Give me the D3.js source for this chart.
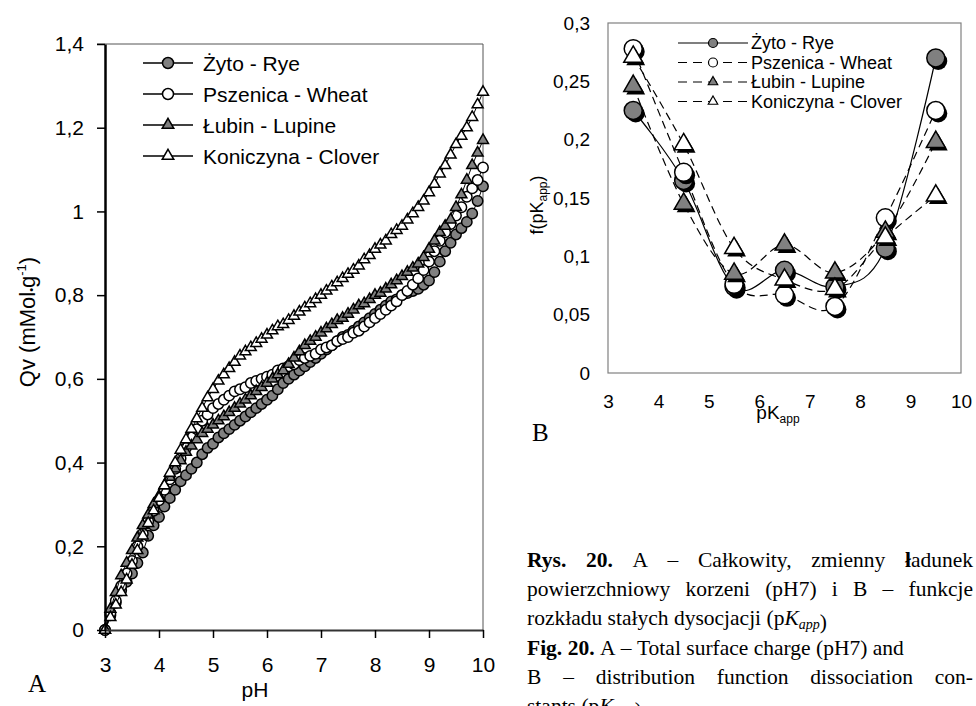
<!DOCTYPE html>
<html>
<head>
<meta charset="utf-8">
<script src="https://cdn.jsdelivr.net/npm/d3@7"></script>
<style>
  body { margin: 0; background: #fff; }
  svg text { font-family: Arial, "Liberation Sans", sans-serif; fill: #000; }
  svg text.serif { font-family: "Times New Roman", "Liberation Serif", serif; }
</style>
</head>
<body>
<div id="chart"></div>
<script>
//-------------------------- dane --------------------------
// A: pH grid and Qv (mMol*g-1)
var phValues = [3.0,3.1,3.2,3.3,3.4,3.5,3.6,3.7,3.8,3.9,
                4.0,4.1,4.2,4.3,4.4,4.5,4.6,4.7,4.8,4.9,
                5.0,5.1,5.2,5.3,5.4,5.5,5.6,5.7,5.8,5.9,
                6.0,6.1,6.2,6.3,6.4,6.5,6.6,6.7,6.8,6.9,
                7.0,7.1,7.2,7.3,7.4,7.5,7.6,7.7,7.8,7.9,
                8.0,8.1,8.2,8.3,8.4,8.5,8.6,8.7,8.8,8.9,
                9.0,9.1,9.2,9.3,9.4,9.5,9.6,9.7,9.8,9.9,10.0];
var ryeQ = [0.00,0.035,0.065,0.095,0.115,0.135,0.16,0.185,0.225,0.25,
            0.27,0.295,0.315,0.335,0.355,0.37,0.385,0.40,0.42,0.435,
            0.445,0.46,0.47,0.48,0.49,0.50,0.51,0.52,0.53,0.54,
            0.55,0.56,0.575,0.59,0.60,0.61,0.62,0.63,0.64,0.65,
            0.66,0.67,0.68,0.69,0.70,0.705,0.715,0.725,0.735,0.745,
            0.755,0.765,0.775,0.785,0.79,0.80,0.805,0.81,0.815,0.825,
            0.835,0.855,0.88,0.905,0.925,0.945,0.96,0.975,0.995,1.025,1.06];
var wheatQ = [0.00,0.04,0.07,0.105,0.135,0.165,0.20,0.23,0.26,0.285,
              0.31,0.335,0.36,0.385,0.41,0.435,0.46,0.48,0.50,0.515,
              0.53,0.54,0.55,0.56,0.57,0.575,0.58,0.59,0.595,0.60,
              0.605,0.61,0.62,0.625,0.63,0.635,0.645,0.65,0.655,0.66,
              0.67,0.675,0.68,0.69,0.695,0.70,0.71,0.715,0.725,0.735,
              0.745,0.755,0.765,0.775,0.785,0.80,0.81,0.825,0.84,0.86,
              0.88,0.905,0.93,0.95,0.97,0.99,1.01,1.035,1.055,1.075,1.105];
var lupineQ = [0.00,0.05,0.09,0.13,0.16,0.19,0.22,0.25,0.275,0.30,
               0.32,0.345,0.365,0.385,0.405,0.425,0.44,0.455,0.47,0.48,
               0.49,0.50,0.51,0.52,0.53,0.54,0.55,0.56,0.57,0.58,
               0.59,0.60,0.61,0.62,0.635,0.65,0.665,0.68,0.69,0.70,
               0.71,0.72,0.73,0.74,0.745,0.755,0.765,0.775,0.78,0.79,
               0.80,0.805,0.815,0.825,0.835,0.845,0.855,0.865,0.875,0.89,
               0.91,0.93,0.95,0.965,0.98,1.01,1.04,1.075,1.11,1.14,1.17];
var cloverQ = [0.00,0.03,0.06,0.09,0.12,0.155,0.19,0.225,0.255,0.285,
               0.315,0.345,0.375,0.40,0.43,0.455,0.48,0.505,0.53,0.555,
               0.575,0.595,0.61,0.625,0.64,0.655,0.665,0.675,0.685,0.695,
               0.705,0.715,0.725,0.73,0.74,0.75,0.76,0.77,0.78,0.79,
               0.80,0.81,0.82,0.83,0.84,0.85,0.86,0.87,0.885,0.895,
               0.91,0.92,0.93,0.945,0.955,0.965,0.98,0.995,1.01,1.025,
               1.045,1.065,1.09,1.11,1.135,1.16,1.18,1.20,1.225,1.255,1.285];

// B: pKapp and f(pKapp)
var pkApp = [3.5, 4.5, 5.5, 6.5, 7.5, 8.5, 9.5];
var ryeF = [0.225, 0.165, 0.074, 0.088, 0.074, 0.107, 0.270];
var wheatF = [0.278, 0.172, 0.076, 0.067, 0.057, 0.133, 0.225];
var lupineF = [0.246, 0.145, 0.085, 0.110, 0.086, 0.121, 0.198];
var cloverF = [0.271, 0.196, 0.107, 0.080, 0.072, 0.116, 0.152];

var seriesNames = ["Żyto - Rye", "Pszenica - Wheat", "Łubin - Lupine", "Koniczyna - Clover"];
var qTicks = [0, 0.2, 0.4, 0.6, 0.8, 1, 1.2, 1.4];
var phTicks = [3, 4, 5, 6, 7, 8, 9, 10];
var fTicks = [0, 0.05, 0.1, 0.15, 0.2, 0.25, 0.3];
//----------------------------------------------------------

var GRAY = "#808080";
var styles = [
    { shape: "circle", fill: GRAY },
    { shape: "circle", fill: "#fff" },
    { shape: "triangle", fill: GRAY },
    { shape: "triangle", fill: "#fff" }
];
var fmt = function (d) { return String(d).replace(".", ","); };

var svg = d3.select("#chart").append("svg")
    .attr("width", 976).attr("height", 706);

// marker helper: circle radius r or triangle of width ~2r
function marker(g, shape, r) {
    if (shape === "circle") {
        return g.append("circle").attr("r", r);
    }
    return g.append("path")
        .attr("d", d3.symbol(d3.symbolTriangle, Math.sqrt(3) / 4 * Math.pow(2.1 * r, 2))());
}

// ===================== Chart A =====================
var xA = d3.scaleLinear().domain([3, 10]).range([105, 483]);
var yA = d3.scaleLinear().domain([0, 1.4]).range([630, 44]);
var gA = svg.append("g");

// ramka (góra + prawa)
gA.append("path")
    .attr("d", "M" + (xA(3) - 8) + "," + yA(1.4) + "H" + xA(10) + "V" + yA(0))
    .attr("fill", "none").attr("stroke", "#555").attr("stroke-width", 1);

var seriesA = [ryeQ, wheatQ, lupineQ, cloverQ];
var lineA = d3.line().x(function (d, i) { return xA(phValues[i]); }).y(function (d) { return yA(d); });
seriesA.forEach(function (vals, k) {
    gA.append("path").attr("d", lineA(vals))
        .attr("fill", "none").attr("stroke", "#000").attr("stroke-width", 1);
    var st = styles[k];
    gA.append("g").selectAll("g").data(vals).join("g")
        .attr("transform", function (d, i) { return "translate(" + xA(phValues[i]) + "," + yA(d) + ")"; })
        .each(function () {
            marker(d3.select(this), st.shape, 5.2)
                .attr("fill", st.fill).attr("stroke", "#000").attr("stroke-width", 1.5);
        });
});

// osie A
var axLeftA = gA.append("g").attr("transform", "translate(" + xA(3) + ",0)")
    .call(d3.axisLeft(yA).tickValues(qTicks).tickFormat(fmt).tickSize(8).tickSizeOuter(0).tickPadding(13));
axLeftA.select(".domain").attr("stroke-width", 2.5);
var axBotA = gA.append("g").attr("transform", "translate(0," + yA(0) + ")")
    .call(d3.axisBottom(xA).tickValues(phTicks).tickFormat(d3.format("d")).tickSize(8).tickSizeOuter(0).tickPadding(19));
axBotA.select(".domain").attr("stroke-width", 2).attr("stroke", "#333");
gA.selectAll(".tick line").attr("stroke-width", 1.5);
gA.selectAll(".tick text").style("font-size", "21px").attr("font-family", null);

// tytuły osi A
var yTitleA = gA.append("text")
    .attr("transform", "translate(35,322) rotate(-90)")
    .attr("text-anchor", "middle").style("font-size", "22px");
yTitleA.append("tspan").text("Qv  (mMol");
yTitleA.append("tspan").text("•").style("font-size", "11px");
yTitleA.append("tspan").text("g");
yTitleA.append("tspan").text("-1").style("font-size", "13px").attr("dy", "-9");
yTitleA.append("tspan").text(")").attr("dy", "9");
gA.append("text").attr("x", 255).attr("y", 697).attr("text-anchor", "middle")
    .style("font-size", "21px").text("pH");
gA.append("text").attr("class", "serif").attr("x", 28).attr("y", 692)
    .style("font-size", "25px").text("A");

// legenda A
seriesNames.forEach(function (name, k) {
    var y = 63 + k * 31;
    var lg = gA.append("g");
    lg.append("line").attr("x1", 143).attr("x2", 193).attr("y1", y).attr("y2", y)
        .attr("stroke", "#000").attr("stroke-width", 1.5);
    marker(lg.append("g").attr("transform", "translate(168," + y + ")"), styles[k].shape, 5.5)
        .attr("fill", styles[k].fill).attr("stroke", "#000").attr("stroke-width", 1.5);
    lg.append("text").attr("x", 203).attr("y", y).attr("dy", "0.36em")
        .style("font-size", "21px").text(name);
});

// ===================== Chart B =====================
var xB = d3.scaleLinear().domain([3, 10]).range([608, 961]);
var yB = d3.scaleLinear().domain([0, 0.3]).range([373, 23]);
var gB = svg.append("g");

gB.append("rect").attr("x", xB(3)).attr("y", yB(0.3))
    .attr("width", xB(10) - xB(3)).attr("height", yB(0) - yB(0.3))
    .attr("fill", "none").attr("stroke", "#808080").attr("stroke-width", 1.2);

var seriesB = [ryeF, wheatF, lupineF, cloverF];
var lineB = d3.line().curve(d3.curveCardinal.tension(0))
    .x(function (d, i) { return xB(pkApp[i]); }).y(function (d) { return yB(d); });
seriesB.forEach(function (vals, k) {
    gB.append("path").attr("d", lineB(vals))
        .attr("fill", "none").attr("stroke", "#000").attr("stroke-width", 1.2)
        .attr("stroke-dasharray", k === 0 ? null : "8,5");
});
seriesB.forEach(function (vals, k) {
    var st = styles[k];
    gB.append("g").selectAll("g").data(vals).join("g")
        .attr("transform", function (d, i) { return "translate(" + xB(pkApp[i]) + "," + yB(d) + ")"; })
        .each(function () {
            var p = d3.select(this);
            // cień
            marker(p.append("g").attr("transform", "translate(2.5,3)"), st.shape, 9).attr("fill", "#000");
            marker(p, st.shape, 9)
                .attr("fill", st.fill).attr("stroke", "#000").attr("stroke-width", 1.5);
        });
});

// osie B (tylko etykiety)
gB.append("g").attr("transform", "translate(" + xB(3) + ",0)")
    .call(d3.axisLeft(yB).tickValues(fTicks).tickFormat(fmt).tickSize(0).tickPadding(18));
gB.append("g").attr("transform", "translate(0," + yB(0) + ")")
    .call(d3.axisBottom(xB).tickValues(phTicks).tickFormat(d3.format("d")).tickSize(0).tickPadding(22));
gB.selectAll(".domain").remove();
gB.selectAll(".tick text").style("font-size", "19px").attr("font-family", null);

var yTitleB = gB.append("text")
    .attr("transform", "translate(543,205) rotate(-90)")
    .attr("text-anchor", "middle").style("font-size", "18px");
yTitleB.append("tspan").text("f(pK");
yTitleB.append("tspan").text("app").style("font-size", "12px").attr("dy", "4");
yTitleB.append("tspan").text(")").attr("dy", "-4");

var xTitleB = gB.append("text").attr("x", 778).attr("y", 419)
    .attr("text-anchor", "middle").style("font-size", "19px");
xTitleB.append("tspan").text("pK");
xTitleB.append("tspan").text("app").style("font-size", "12px").attr("dy", "4");

gB.append("text").attr("class", "serif").attr("x", 532).attr("y", 441)
    .style("font-size", "25px").text("B");

// legenda B
seriesNames.forEach(function (name, k) {
    var y = 43 + k * 19.5;
    var lg = gB.append("g");
    lg.append("line").attr("x1", 678).attr("x2", 748).attr("y1", y).attr("y2", y)
        .attr("stroke", "#000").attr("stroke-width", 1.2)
        .attr("stroke-dasharray", k === 0 ? null : "9,6");
    marker(lg.append("g").attr("transform", "translate(713," + y + ")"), styles[k].shape, 4.5)
        .attr("fill", styles[k].fill).attr("stroke", "#000").attr("stroke-width", 1.2);
    lg.append("text").attr("x", 751).attr("y", y).attr("dy", "0.36em")
        .style("font-size", "18px").text(name);
});

// ===================== Podpis =====================
// każda linia: lista słów, każde słowo to lista fragmentów [tekst, styl]
var captionLines = [
    { y: 567, justify: true, words: [[["Rys.", "b"]], [["20.", "b"]], [["A"]], [["–"]], [["Całkowity,"]], [["zmienny"]], [["ł", "b"], ["adunek"]]] },
    { y: 596, justify: true, words: [[["powierzchniowy"]], [["korzeni"]], [["(pH7)"]], [["i"]], [["B"]], [["–"]], [["funkcje"]]] },
    { y: 625, justify: false, words: [[["rozkładu"]], [["stałych"]], [["dysocjacji"]], [["(p"], ["K", "i"], ["app", "is"], [")"]]] },
    { y: 655, justify: false, words: [[["Fig.", "b"]], [["20.", "b"]], [["A"]], [["–"]], [["Total"]], [["surface"]], [["charge"]], [["(pH7)"]], [["and"]]] },
    { y: 684, justify: true, words: [[["B"]], [["–"]], [["distribution"]], [["function"]], [["dissociation"]], [["con-"]]] },
    { y: 713, justify: false, words: [[["stants"]], [["(p"], ["K", "i"], ["app", "is"], [")."]]] }
];
var capX0 = 527, capX1 = 973;
var gC = svg.append("g");
captionLines.forEach(function (line) {
    var nodes = line.words.map(function (w) {
        var t = gC.append("text").attr("class", "serif").attr("y", line.y).style("font-size", "21.5px");
        w.forEach(function (run) {
            var s = run[1] || "";
            var ts = t.append("tspan").text(run[0]);
            if (s.indexOf("b") >= 0) ts.style("font-weight", "bold");
            if (s.indexOf("i") >= 0) ts.style("font-style", "italic");
            if (s.indexOf("s") >= 0) ts.style("font-size", "14px").attr("dy", "4");
        });
        return t;
    });
    var widths = nodes.map(function (n) { return n.node().getComputedTextLength(); });
    var gap = line.justify ? (capX1 - capX0 - d3.sum(widths)) / (nodes.length - 1) : 5.4;
    var x = capX0;
    nodes.forEach(function (n, i) { n.attr("x", x); x += widths[i] + gap; });
});
</script>
</body>
</html>
